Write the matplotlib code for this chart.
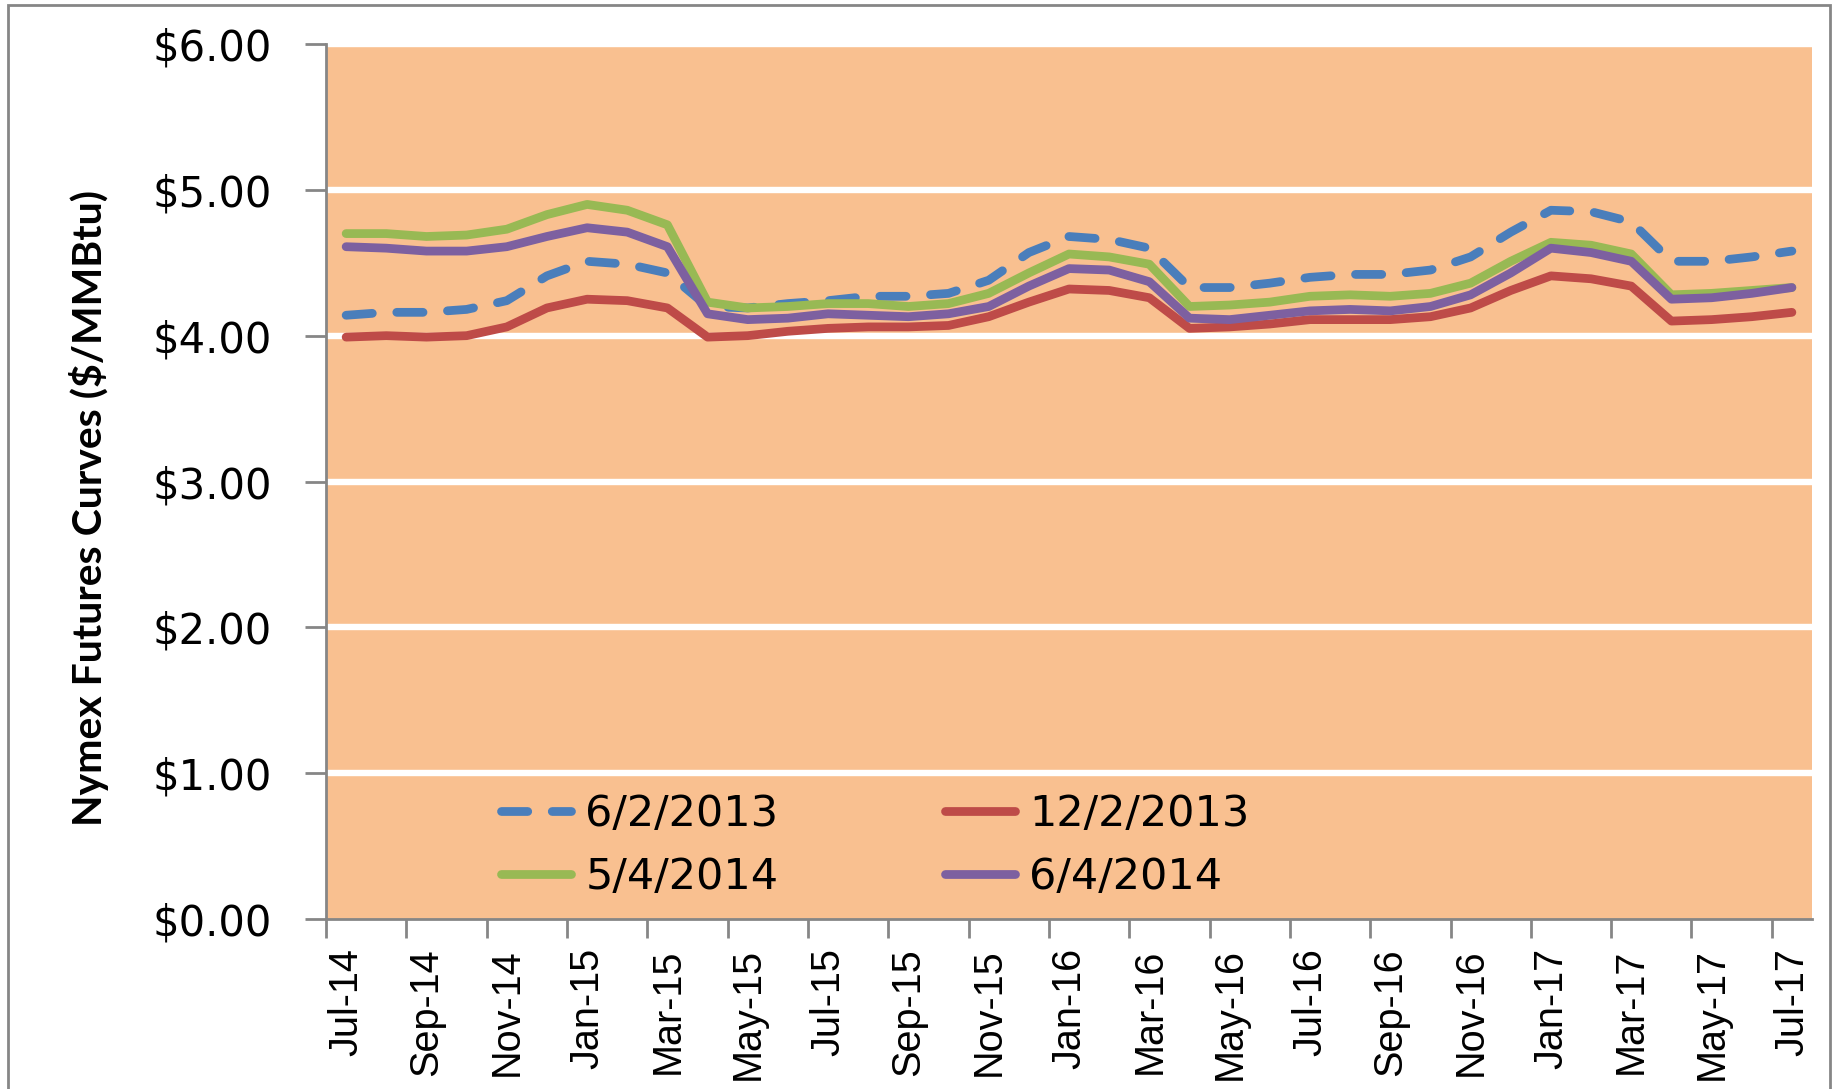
import numpy as np
import matplotlib
matplotlib.use("Agg")
import matplotlib.pyplot as plt
from matplotlib.patches import Rectangle

# monthly contract months, Jul-14 .. Jul-17
months = ['Jul-14', 'Aug-14', 'Sep-14', 'Oct-14', 'Nov-14', 'Dec-14',
          'Jan-15', 'Feb-15', 'Mar-15', 'Apr-15', 'May-15', 'Jun-15',
          'Jul-15', 'Aug-15', 'Sep-15', 'Oct-15', 'Nov-15', 'Dec-15',
          'Jan-16', 'Feb-16', 'Mar-16', 'Apr-16', 'May-16', 'Jun-16',
          'Jul-16', 'Aug-16', 'Sep-16', 'Oct-16', 'Nov-16', 'Dec-16',
          'Jan-17', 'Feb-17', 'Mar-17', 'Apr-17', 'May-17', 'Jun-17',
          'Jul-17']

curve_2013_06 = [4.14, 4.16, 4.16, 4.18, 4.24, 4.41, 4.51, 4.49, 4.43, 4.20,
                 4.19, 4.22, 4.24, 4.27, 4.27, 4.29, 4.38, 4.57, 4.68, 4.66,
                 4.60, 4.33, 4.33, 4.36, 4.40, 4.42, 4.42, 4.45, 4.54, 4.71,
                 4.86, 4.85, 4.78, 4.51, 4.51, 4.54, 4.58]
curve_2013_12 = [3.99, 4.00, 3.99, 4.00, 4.06, 4.19, 4.25, 4.24, 4.19, 3.99,
                 4.00, 4.03, 4.05, 4.06, 4.06, 4.07, 4.13, 4.23, 4.32, 4.31,
                 4.26, 4.05, 4.06, 4.08, 4.11, 4.11, 4.11, 4.13, 4.19, 4.31,
                 4.41, 4.39, 4.34, 4.10, 4.11, 4.13, 4.16]
curve_2014_05 = [4.70, 4.70, 4.68, 4.69, 4.73, 4.83, 4.90, 4.86, 4.76, 4.23,
                 4.19, 4.20, 4.22, 4.22, 4.20, 4.22, 4.29, 4.43, 4.56, 4.54,
                 4.49, 4.20, 4.21, 4.23, 4.27, 4.28, 4.27, 4.29, 4.36, 4.51,
                 4.64, 4.62, 4.56, 4.28, 4.29, 4.31, 4.33]
curve_2014_06 = [4.61, 4.60, 4.58, 4.58, 4.61, 4.68, 4.74, 4.71, 4.61, 4.15,
                 4.11, 4.12, 4.15, 4.14, 4.13, 4.15, 4.20, 4.34, 4.46, 4.45,
                 4.37, 4.12, 4.11, 4.14, 4.17, 4.18, 4.17, 4.20, 4.28, 4.43,
                 4.60, 4.57, 4.51, 4.25, 4.26, 4.29, 4.33]

series_labels = ['6/2/2013', '12/2/2013', '5/4/2014', '6/4/2014']
series_colors = ['#4A7EBB', '#BE4B48', '#98B954', '#7D60A0']
y_ticks = [0, 1, 2, 3, 4, 5, 6]

plt.rcParams['font.family'] = ['Lato', 'DejaVu Sans']

fig = plt.figure(figsize=(18.39, 10.89), dpi=100)
ax = fig.add_axes([0.1773, 0.1561, 0.9853 - 0.1773, 0.9596 - 0.1561])
ax.set_facecolor('#F9C090')

x = np.arange(len(months))
data = [curve_2013_06, curve_2013_12, curve_2014_05, curve_2014_06]
lines = []
for i, (vals, lab, col) in enumerate(zip(data, series_labels, series_colors)):
    if i == 0:
        ln, = ax.plot(x, vals, color=col, lw=6.3, label=lab, zorder=3,
                      linestyle=(0, (3.0, 2.8)), dash_capstyle='round',
                      solid_capstyle='round')
    else:
        ln, = ax.plot(x, vals, color=col, lw=6.3, label=lab, zorder=3 + i,
                      solid_capstyle='round')
    lines.append(ln)

ax.set_xlim(-0.5, len(months) - 0.5)
ax.set_ylim(0, 6)

# white gridlines
for yv in y_ticks[1:]:
    ax.axhline(yv, color='white', lw=4.6, zorder=2)

ax.set_yticks(y_ticks)
ax.set_yticklabels(['${:.2f}'.format(v) for v in y_ticks], fontsize=30,
                   family='DejaVu Sans')
ax.set_xticks(x[::2])
ax.set_xticklabels(months[::2], rotation=90, fontsize=28.5,
                   family=['Liberation Sans', 'DejaVu Sans'])
ax.set_xticks(np.arange(-0.5, len(months) - 1, 2), minor=True)
ax.tick_params(axis='x', which='major', length=0, pad=21)
ax.tick_params(axis='x', which='minor', length=14, width=2, color='#868686')
ax.tick_params(axis='y', length=15, width=2, color='#868686', pad=24)

for s in ['top', 'right']:
    ax.spines[s].set_visible(False)
for s in ['left', 'bottom']:
    ax.spines[s].set_color('#868686')
    ax.spines[s].set_linewidth(2)
    ax.spines[s].set_zorder(10)

ax.set_ylabel('Nymex Futures Curves ($/MMBtu)', fontsize=29.5,
              fontweight='bold')
ax.yaxis.set_label_coords(-0.146, 0.47)

# row-major order like the original legend
order = [0, 2, 1, 3]
ax.legend([lines[k] for k in order], [series_labels[k] for k in order],
          loc='center left', bbox_to_anchor=(0.118, 0.084), ncol=2,
          frameon=False, prop={'family': 'DejaVu Sans', 'size': 31},
          handlelength=1.62, handletextpad=0.33, columnspacing=3.87,
          labelspacing=0.5, borderpad=0, borderaxespad=0)

# chart area border
fig.patches.append(Rectangle((8 / 1839, -0.05), (1830 - 8) / 1839,
                             1.05 - 5 / 1089, transform=fig.transFigure,
                             fill=False, edgecolor='#868686', lw=2))

fig.savefig('out.png', dpi=100)
